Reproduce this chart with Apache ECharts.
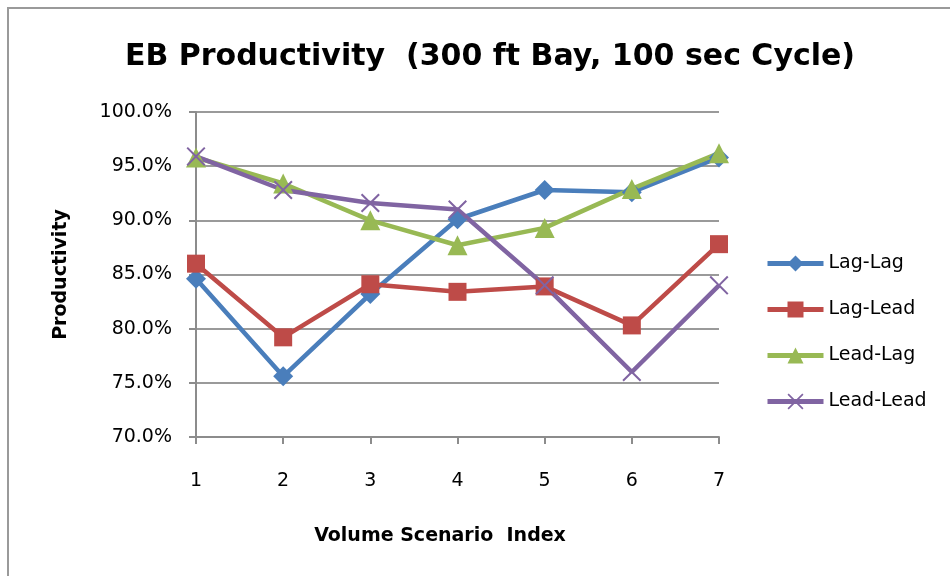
<!DOCTYPE html>
<html>
<head>
<meta charset="utf-8">
<script src="https://cdn.jsdelivr.net/npm/echarts@6/dist/echarts.min.js"></script>
<style>
  html, body { margin: 0; padding: 0; background: #ffffff; }
  #chart { width: 950px; height: 576px; }
</style>
</head>
<body>
<div id="chart"></div>
<script>
// Scenario indices along the x axis
const scenarios = ['1', '2', '3', '4', '5', '6', '7'];

// Productivity (%) per signal phasing combination
const lagLag   = [84.6, 75.6, 83.2, 90.1, 92.8, 92.6, 95.8];
const lagLead  = [86.0, 79.2, 84.1, 83.4, 83.9, 80.3, 87.8];
const leadLag  = [95.8, 93.4, 90.0, 87.7, 89.3, 92.9, 96.2];
const leadLead = [95.9, 92.8, 91.6, 91.0, 84.0, 76.0, 84.0];

const seriesNames = ['Lag-Lag', 'Lag-Lead', 'Lead-Lag', 'Lead-Lead'];

const FONT = 'DejaVu Sans';
// thin-armed "x" marker
const crossPath = 'path://M0,1.5L1.5,0L10,8.5L18.5,0L20,1.5L11.5,10L20,18.5L18.5,20L10,11.5L1.5,20L0,18.5L8.5,10Z';

function lineSeries(name, data, color, symbol, size) {
  return {
    name: name,
    type: 'line',
    data: data,
    symbol: symbol,
    symbolSize: size,
    showAllSymbol: true,
    lineStyle: { color: color, width: 4.5 },
    itemStyle: { color: color },
    emphasis: { disabled: true },
    animation: false
  };
}

const chart = echarts.init(document.getElementById('chart'), null, { renderer: 'canvas' });

chart.setOption({
  backgroundColor: '#ffffff',
  animation: false,
  title: {
    text: 'EB Productivity  (300 ft Bay, 100 sec Cycle)',
    left: 485,
    textAlign: 'center',
    top: 37,
    textStyle: { fontFamily: FONT, fontSize: 30, fontWeight: 'bold', color: '#000000' }
  },
  graphic: [{
    type: 'rect',
    shape: { x: 8, y: 8, width: 1200, height: 1200 },
    style: { fill: 'none', stroke: '#9a9a9a', lineWidth: 2 },
    silent: true
  }],
  legend: {
    orient: 'vertical',
    left: 760,
    top: 249,
    itemWidth: 56,
    itemHeight: 20,
    itemGap: 27,
    data: seriesNames,
    lineStyle: { width: 5 },
    textStyle: { fontFamily: FONT, fontSize: 19, color: '#000000' }
  },
  grid: { left: 196, right: 231, top: 112, bottom: 139, containLabel: false },
  xAxis: {
    type: 'category',
    data: scenarios,
    boundaryGap: false,
    name: 'Volume Scenario  Index',
    nameLocation: 'middle',
    nameGap: 90,
    nameTextStyle: { fontFamily: FONT, fontSize: 19, fontWeight: 'bold', color: '#000000', padding: [0, 35, 0, 0] },
    axisLine: { lineStyle: { color: '#8c8c8c', width: 2 } },
    axisTick: { show: true, length: 7, alignWithLabel: true, lineStyle: { color: '#8c8c8c', width: 2 } },
    axisLabel: { fontFamily: FONT, fontSize: 19, color: '#000000', margin: 35 },
    splitLine: { show: false }
  },
  yAxis: {
    type: 'value',
    min: 70,
    max: 100,
    interval: 5,
    name: 'Productivity',
    nameLocation: 'middle',
    nameRotate: 90,
    nameGap: 125,
    nameTextStyle: { fontFamily: FONT, fontSize: 19, fontWeight: 'bold', color: '#000000' },
    axisLine: { show: true, lineStyle: { color: '#8c8c8c', width: 2 } },
    axisTick: { show: true, length: 7, lineStyle: { color: '#8c8c8c', width: 2 } },
    axisLabel: {
      fontFamily: FONT, fontSize: 19, color: '#000000', margin: 24,
      formatter: function (v) { return v.toFixed(1) + '%'; }
    },
    splitLine: { show: true, lineStyle: { color: '#9a9a9a', width: 2 } }
  },
  series: [
    lineSeries('Lag-Lag', lagLag, '#4A7EBB', 'diamond', 20),
    lineSeries('Lag-Lead', lagLead, '#BE4B48', 'rect', 18),
    lineSeries('Lead-Lag', leadLag, '#98B954', 'triangle', 20),
    lineSeries('Lead-Lead', leadLead, '#8064A2', crossPath, 19)
  ]
});
</script>
</body>
</html>
